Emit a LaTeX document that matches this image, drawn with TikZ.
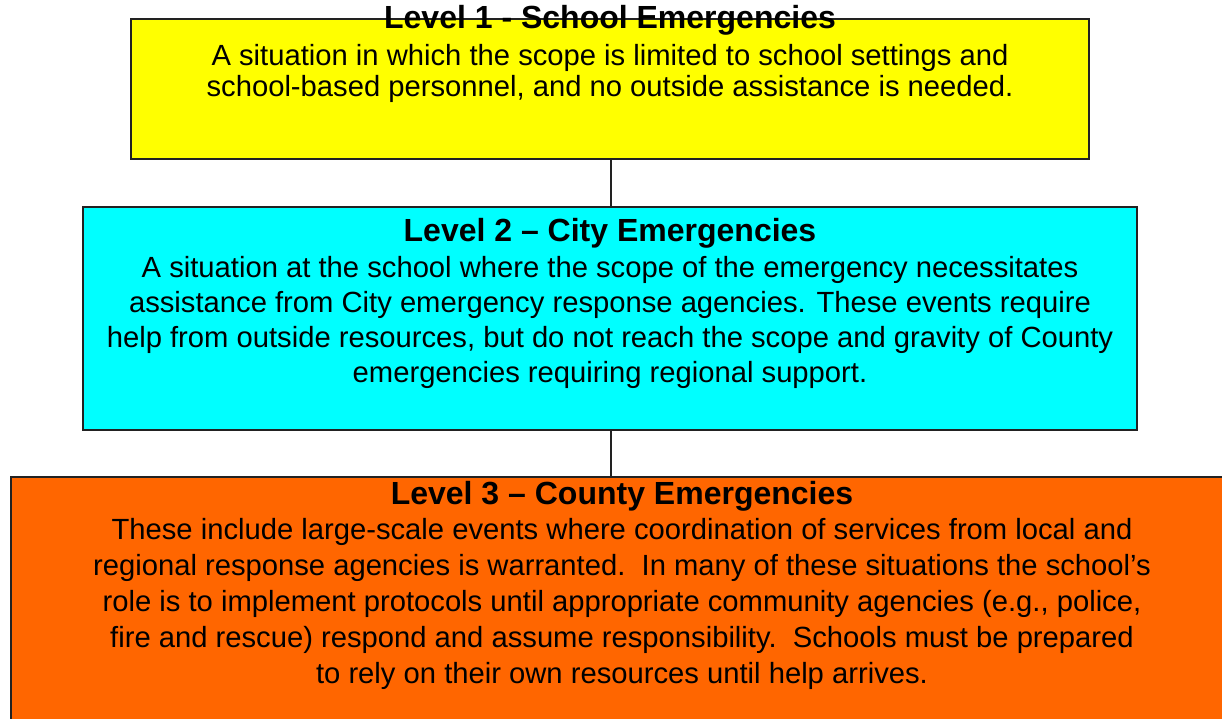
\documentclass[tikz,border=0pt]{standalone}
\usepackage{fontspec}
\setmainfont{Liberation Sans}
\definecolor{lvlone}{HTML}{FFFF00}
\definecolor{lvltwo}{HTML}{00FFFF}
\definecolor{lvlthree}{HTML}{FF6600}
\definecolor{edge}{HTML}{222222}
\begin{document}
\begin{tikzpicture}[x=1pt,y=-1pt,
  levelbox/.style={draw=edge, line width=1.6pt, inner sep=0pt, rectangle},
  titletext/.style={anchor=base, inner sep=0pt, font=\fontsize{32}{36}\selectfont\bfseries},
  bodytext/.style={anchor=base, inner sep=0pt, align=center, font=\fontsize{29.2}{35}\selectfont},
  link/.style={draw=edge, line width=1.4pt}]
\useasboundingbox (0,0) rectangle (1222,719);
\clip (0,0) rectangle (1222,719);
% boxes
\path[levelbox, fill=lvlone] (131,19) rectangle (1089,159);
\node[coordinate] (b1) at (611,159) {};
\node[coordinate] (b2t) at (611,207) {};
\path[levelbox, fill=lvltwo] (83,207) rectangle (1137,430);
\node[coordinate] (b2) at (611,430) {};
\node[coordinate] (b3t) at (611,477) {};
\path[levelbox, fill=lvlthree] (11,477) rectangle (1240,740);
% connectors
\draw[link] (b1) -- (b2t);
\draw[link] (b2) -- (b3t);
% texts (body nodes: base = last line's baseline)
\node[titletext] (t1) at (610,29) {Level 1 - School Emergencies};
\node[bodytext, font=\fontsize{29.2}{31}\selectfont] (d1) at (610,97) {A situation in which the scope is limited to school settings and\\school-based personnel, and no outside assistance is needed.};
\node[titletext] (t2) at (610,241) {Level 2 – City Emergencies};
\node[bodytext] (d2) at (610,382) {A situation at the school where the scope of the emergency necessitates\\assistance from City emergency response agencies. These events require\\help from outside resources, but do not reach the scope and gravity of County\\emergencies requiring regional support.};
\node[titletext] (t3) at (622,504) {Level 3 – County Emergencies};
\node[bodytext, font=\fontsize{29.2}{35.8}\selectfont] (d3) at (622,683) {These include large-scale events where coordination of services from local and\\regional response agencies is warranted.\ \ In many of these situations the school’s\\role is to implement protocols until appropriate community agencies (e.g., police,\\fire and rescue) respond and assume responsibility.\ \ Schools must be prepared\\to rely on their own resources until help arrives.};
\end{tikzpicture}
\end{document}
